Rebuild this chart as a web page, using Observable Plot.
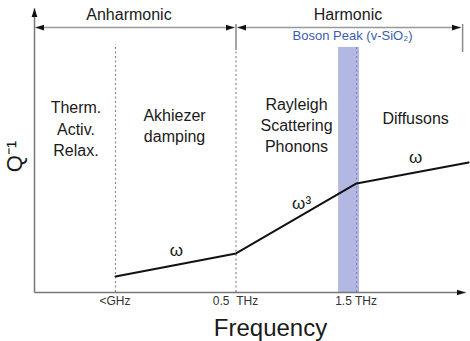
<!DOCTYPE html>
<html><head><meta charset="utf-8">
<script src="https://cdn.jsdelivr.net/npm/d3@7"></script>
<script src="https://cdn.jsdelivr.net/npm/@observablehq/plot@0.6"></script>
<style>body{margin:0;background:#fff} svg{display:block}</style>
</head><body><div id="chart"></div>
<script>
// Frequency positions (abstract units): <GHz = 1, 0.5 THz = 2, 1.5 THz = 3
const tickPos = [1, 2, 3];
const tickLabels = ["<GHz", "0.5\u00a0\u00a0THz", "1.5 THz"];
const tickShift = [0, 9, 6];
// Q^-1 curve (arbitrary units)
const curveX = [1, 2, 3, 3.93];
const curveY = [0.056, 0.136, 0.380, 0.453];
// Regime labels
const regionNames = ["Therm.\nActiv.\nRelax.", "Akhiezer\ndamping", "Rayleigh\nScattering\nPhonons", "Diffusons"];
const regionX = [0.672, 1.49, 2.502, 3.49];
const regionY = [0.676, 0.65, 0.688, 0.64];
// Power-law labels
const powerNames = ["ω", "ω³", "ω"];
const powerX = [1.506, 2.544, 3.49];
const powerY = [0.147, 0.31, 0.471];
// Top brackets
const bracketNames = ["Anharmonic", "Harmonic"];
const bracketFrom = [0.336, 2.012];
const bracketTo = [1.988, 3.865];
const bracketLabelX = [1.112, 2.929];
const bandFrom = 2.851, bandTo = 3.025, bandTop = 0.854;

const xDomain = [0.328, 3.929];
const font = "Liberation Sans, Arial, Helvetica, sans-serif";

function head(color, context) {
  const doc = (context && context.document) || document;
  const ns = "http://www.w3.org/2000/svg";
  const m = doc.createElementNS(ns, "marker");
  m.setAttribute("viewBox", "-9 -3.5 9 7");
  m.setAttribute("markerWidth", 9);
  m.setAttribute("markerHeight", 7);
  m.setAttribute("markerUnits", "userSpaceOnUse");
  m.setAttribute("orient", "auto-start-reverse");
  m.setAttribute("fill", "#111");
  m.setAttribute("stroke", "none");
  const p = doc.createElementNS(ns, "path");
  p.setAttribute("d", "M-9,-3L0,0L-9,3Z");
  m.appendChild(p);
  return m;
}

const curve = curveX.map((x, i) => ({x, y: curveY[i]}));
const regions = regionNames.map((t, i) => ({t, x: regionX[i], y: regionY[i]}));
const powers = powerNames.map((t, i) => ({t, x: powerX[i], y: powerY[i]}));
const brackets = bracketNames.map((t, i) => ({t, x1: bracketFrom[i], x2: bracketTo[i], lx: bracketLabelX[i]}));
const ticks = tickPos.map((x, i) => ({x, t: tickLabels[i], dx: tickShift[i]}));
const dashes = [{x: 1, top: 0.864, c: "#8a8a8a"}, {x: 2, top: 0.843, c: "#8a8a8a"}, {x: 3, top: bandTop, c: "#8088b0"}];
const bracketTicks = [{x: 2, y1: 0.843, y2: 0.934}, {x: 3.88, y1: 0.836, y2: 0.934}];

const plot = Plot.plot({
  width: 470, height: 341,
  marginLeft: 34, marginRight: 2, marginTop: 5, marginBottom: 49,
  style: {fontFamily: font, background: "#fff", overflow: "visible"},
  x: {domain: xDomain, axis: null},
  y: {domain: [0, 1], axis: null},
  marks: [
    Plot.rect([0], {x1: bandFrom, x2: bandTo, y1: 0, y2: bandTop, fill: "#b3b8e2"}),
    Plot.ruleX(dashes, {x: "x", y1: 0, y2: "top", stroke: "c", strokeWidth: 1.2, strokeDasharray: "2,2.5"}),
    Plot.ruleX(bracketTicks, {x: "x", y1: "y1", y2: "y2", stroke: "#888", strokeWidth: 1.5}),
    Plot.link(brackets, {x1: "x1", x2: "x2", y1: 0.923, y2: 0.923, stroke: "#999", strokeWidth: 1.5, markerStart: head, markerEnd: head}),
    Plot.link([0], {x1: xDomain[0], x2: xDomain[0], y1: 0, y2: 0.99, stroke: "#777", strokeWidth: 1.5, markerEnd: head}),
    Plot.link([0], {x1: xDomain[0], x2: 3.905, y1: 0, y2: 0, stroke: "#777", strokeWidth: 1.5, markerEnd: head}),
    Plot.line(curve, {x: "x", y: "y", stroke: "#111", strokeWidth: 2}),
    Plot.text(brackets, {x: "lx", y: 0.967, text: "t", fontSize: 16, fill: "#1a1a1a"}),
    Plot.text([0], {x: 2.967, y: 0.893, text: ["Boson Peak (v-SiO₂)"], fontSize: 13, fill: "#3b5cb0"}),
    Plot.text(regions, {x: "x", y: "y", text: "t", fontSize: 16, fill: "#1a1a1a", lineAnchor: "top", lineHeight: 1.32}),
    Plot.text(powers, {x: "x", y: "y", text: "t", fontSize: 17, fill: "#1a1a1a"}),
    Plot.text(ticks, {x: "x", y: -0.032, text: "t", dx: "dx", fontSize: 12, fill: "#333"}),
    Plot.text([0], {x: 2.286, y: -0.124, text: ["Frequency"], fontSize: 24, fill: "#1a1a1a"}),
    Plot.text([0], {x: 0.162, y: 0.474, text: ["Q⁻¹"], fontSize: 22, fill: "#1a1a1a", rotate: -90})
  ]
});
document.getElementById("chart").appendChild(plot);
</script>
</body></html>
